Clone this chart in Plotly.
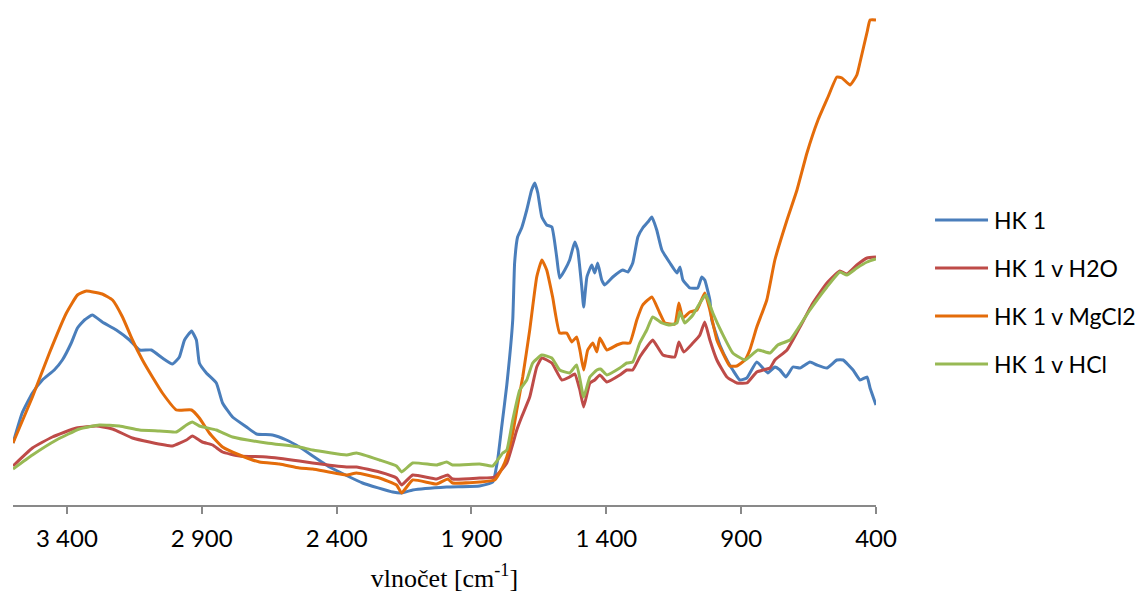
import plotly.graph_objects as go

# FTIR spectra of humic acid sample HK 1 (absorbance, a.u.) vs. wavenumber (cm-1)
hk1_wn = [3600, 3566, 3528, 3491, 3447, 3417, 3384, 3361, 3335, 3306, 3269, 3217, 3168, 3131, 3087,
          3046, 3009, 2983, 2964, 2938, 2920, 2909, 2883, 2846, 2823, 2786, 2734, 2697, 2638, 2586,
          2538, 2426, 2304, 2192, 2159, 2118, 1992, 1870, 1821, 1803, 1788, 1769, 1747, 1740, 1729,
          1714, 1695, 1677, 1665, 1654, 1639, 1621, 1602, 1584, 1573, 1554, 1536, 1517, 1506, 1491,
          1484, 1472, 1454, 1443, 1432, 1417, 1406, 1376, 1339, 1320, 1302, 1283, 1265, 1246, 1231,
          1213, 1194, 1164, 1138, 1127, 1116, 1090, 1061, 1046, 1035, 1016, 1009, 979, 949, 931,
          905, 879, 842, 801, 775, 756, 734, 708, 682, 645, 619, 582, 545, 522, 485, 459, 433, 422, 400]
hk1_abs = [0.122, 0.182, 0.222, 0.248, 0.268, 0.288, 0.322, 0.352, 0.368, 0.378, 0.364, 0.348, 0.328,
           0.308, 0.308, 0.292, 0.280, 0.294, 0.328, 0.346, 0.328, 0.282, 0.262, 0.242, 0.202, 0.174,
           0.154, 0.140, 0.138, 0.128, 0.114, 0.074, 0.042, 0.024, 0.022, 0.028, 0.034, 0.036, 0.044,
           0.088, 0.154, 0.238, 0.368, 0.482, 0.534, 0.552, 0.588, 0.628, 0.642, 0.622, 0.574, 0.558,
           0.554, 0.494, 0.452, 0.468, 0.488, 0.524, 0.508, 0.434, 0.394, 0.454, 0.478, 0.462, 0.482,
           0.448, 0.438, 0.454, 0.468, 0.464, 0.482, 0.534, 0.552, 0.564, 0.574, 0.548, 0.508, 0.482,
           0.462, 0.474, 0.448, 0.432, 0.432, 0.454, 0.448, 0.408, 0.368, 0.318, 0.284, 0.268, 0.248,
           0.252, 0.284, 0.262, 0.274, 0.268, 0.254, 0.274, 0.272, 0.284, 0.278, 0.272, 0.288, 0.288,
           0.268, 0.248, 0.254, 0.232, 0.198]

h2o_wn = [3600, 3528, 3454, 3365, 3291, 3231, 3157, 3094, 3009, 2957, 2935, 2898, 2860, 2823, 2760,
          2660, 2538, 2489, 2363, 2326, 2241, 2178, 2159, 2118, 2029, 1988, 1970, 1870, 1814, 1769,
          1732, 1714, 1684, 1658, 1639, 1602, 1565, 1536, 1517, 1498, 1484, 1461, 1443, 1424, 1398,
          1350, 1324, 1302, 1276, 1250, 1228, 1190, 1146, 1131, 1113, 1079, 1053, 1035, 1016, 990,
          953, 916, 879, 842, 793, 775, 730, 682, 634, 582, 534, 508, 471, 433, 400]
h2o_abs = [0.076, 0.112, 0.134, 0.152, 0.156, 0.150, 0.132, 0.124, 0.116, 0.128, 0.136, 0.124, 0.118,
           0.104, 0.096, 0.094, 0.086, 0.082, 0.074, 0.074, 0.064, 0.052, 0.038, 0.058, 0.050, 0.058,
           0.050, 0.052, 0.054, 0.082, 0.148, 0.174, 0.214, 0.274, 0.292, 0.282, 0.248, 0.254, 0.260,
           0.228, 0.194, 0.242, 0.248, 0.258, 0.244, 0.258, 0.268, 0.268, 0.294, 0.314, 0.328, 0.298,
           0.294, 0.324, 0.304, 0.322, 0.338, 0.364, 0.328, 0.288, 0.254, 0.242, 0.242, 0.264, 0.272,
           0.288, 0.308, 0.354, 0.402, 0.442, 0.466, 0.460, 0.478, 0.492, 0.494]

mgcl2_wn = [3600, 3528, 3465, 3402, 3361, 3328, 3269, 3231, 3194, 3157, 3120, 3083, 3046, 2994, 2938,
            2909, 2872, 2823, 2760, 2686, 2612, 2538, 2489, 2363, 2326, 2241, 2178, 2159, 2118, 2029,
            1988, 1970, 1870, 1814, 1784, 1769, 1747, 1732, 1710, 1684, 1658, 1639, 1621, 1599, 1573,
            1547, 1528, 1510, 1498, 1484, 1469, 1450, 1435, 1424, 1398, 1361, 1339, 1313, 1287, 1265,
            1231, 1202, 1183, 1146, 1131, 1116, 1090, 1064, 1035, 1016, 990, 968, 942, 916, 886, 868,
            842, 805, 775, 730, 693, 656, 615, 578, 545, 526, 496, 471, 459, 433, 422, 400]
mgcl2_abs = [0.122, 0.214, 0.302, 0.382, 0.418, 0.426, 0.420, 0.408, 0.374, 0.328, 0.288, 0.254, 0.222,
             0.188, 0.188, 0.172, 0.142, 0.114, 0.098, 0.084, 0.080, 0.072, 0.070, 0.058, 0.062, 0.052,
             0.038, 0.022, 0.048, 0.040, 0.050, 0.042, 0.044, 0.048, 0.074, 0.094, 0.142, 0.188, 0.254,
             0.348, 0.454, 0.488, 0.468, 0.414, 0.342, 0.342, 0.324, 0.334, 0.308, 0.268, 0.308, 0.322,
             0.304, 0.332, 0.308, 0.318, 0.322, 0.322, 0.368, 0.398, 0.414, 0.382, 0.362, 0.360, 0.402,
             0.372, 0.384, 0.388, 0.422, 0.388, 0.328, 0.302, 0.276, 0.276, 0.288, 0.308, 0.354, 0.408,
             0.488, 0.568, 0.628, 0.702, 0.768, 0.814, 0.854, 0.852, 0.838, 0.858, 0.884, 0.944, 0.968,
             0.968]

hcl_wn = [3600, 3528, 3439, 3354, 3280, 3206, 3131, 3057, 2994, 2957, 2935, 2909, 2846, 2786, 2660,
          2538, 2489, 2363, 2326, 2241, 2178, 2159, 2118, 2029, 1992, 1970, 1870, 1821, 1784, 1769,
          1747, 1721, 1695, 1673, 1639, 1602, 1573, 1536, 1510, 1484, 1461, 1435, 1421, 1398, 1350,
          1324, 1302, 1276, 1250, 1228, 1194, 1164, 1138, 1127, 1109, 1079, 1053, 1031, 1005, 971,
          931, 886, 838, 793, 764, 719, 693, 645, 582, 534, 508, 471, 433, 400]
hcl_abs = [0.070, 0.098, 0.128, 0.150, 0.158, 0.156, 0.148, 0.146, 0.144, 0.158, 0.164, 0.156, 0.148,
           0.134, 0.122, 0.114, 0.108, 0.098, 0.102, 0.088, 0.076, 0.064, 0.082, 0.078, 0.084, 0.078,
           0.080, 0.076, 0.102, 0.108, 0.168, 0.228, 0.248, 0.282, 0.298, 0.292, 0.268, 0.262, 0.278,
           0.214, 0.254, 0.268, 0.270, 0.258, 0.272, 0.282, 0.284, 0.322, 0.348, 0.374, 0.362, 0.358,
           0.362, 0.384, 0.362, 0.378, 0.402, 0.418, 0.382, 0.342, 0.302, 0.288, 0.308, 0.302, 0.318,
           0.328, 0.348, 0.388, 0.434, 0.464, 0.458, 0.472, 0.484, 0.490]

series_names = ["HK 1", "HK 1 v H2O", "HK 1 v MgCl2", "HK 1 v HCl"]
series_colors = ["#4A7EBB", "#BE4B48", "#E46C0A", "#98B954"]

tick_values = [3400, 2900, 2400, 1900, 1400, 900, 400]
tick_labels = ["3 400", "2 900", "2 400", "1 900", "1 400", "900", "400"]

spectra = [(hk1_wn, hk1_abs), (h2o_wn, h2o_abs), (mgcl2_wn, mgcl2_abs), (hcl_wn, hcl_abs)]

fig = go.Figure()
for (wn, ab), name, color in zip(spectra, series_names, series_colors):
    fig.add_trace(go.Scatter(
        x=wn, y=ab, name=name, mode="lines",
        line=dict(color=color, width=3, shape="spline", smoothing=0.4),
    ))

# Legend drawn at the right of the plot: a short line sample followed by the name
legend_top = 0.5804
legend_step = 0.0977
for i, (name, color) in enumerate(zip(series_names, series_colors)):
    yy = legend_top - i * legend_step
    fig.add_shape(type="line", xref="paper", yref="paper",
                  x0=1.0684, x1=1.1298, y0=yy, y1=yy,
                  line=dict(color=color, width=3))
    fig.add_annotation(xref="paper", yref="paper", x=1.1345, y=yy,
                       xanchor="left", yanchor="middle", showarrow=False,
                       text=name, font=dict(family="Lato", size=23, color="#000000"))

fig.update_layout(
    width=1136, height=596,
    margin=dict(l=13, r=260, t=14, b=91),
    paper_bgcolor="white", plot_bgcolor="white",
    showlegend=False,
    xaxis=dict(
        range=[3600, 400], automargin=False,
        tickmode="array", tickvals=tick_values, ticktext=tick_labels,
        showline=True, linecolor="#898989", linewidth=2,
        ticks="outside", ticklen=7, tickwidth=1.5, tickcolor="#898989",
        showgrid=False, zeroline=False,
        tickfont=dict(family="Lato", size=24, color="#000000"),
        ticklabelstandoff=4,
        title=dict(text="vlnočet [cm<sup>-1</sup>]",
                   font=dict(family="Liberation Serif", size=26, color="#000000"),
                   standoff=18),
    ),
    yaxis=dict(visible=False, range=[-0.002, 0.98], automargin=False),
)

fig.write_html("out.html")
